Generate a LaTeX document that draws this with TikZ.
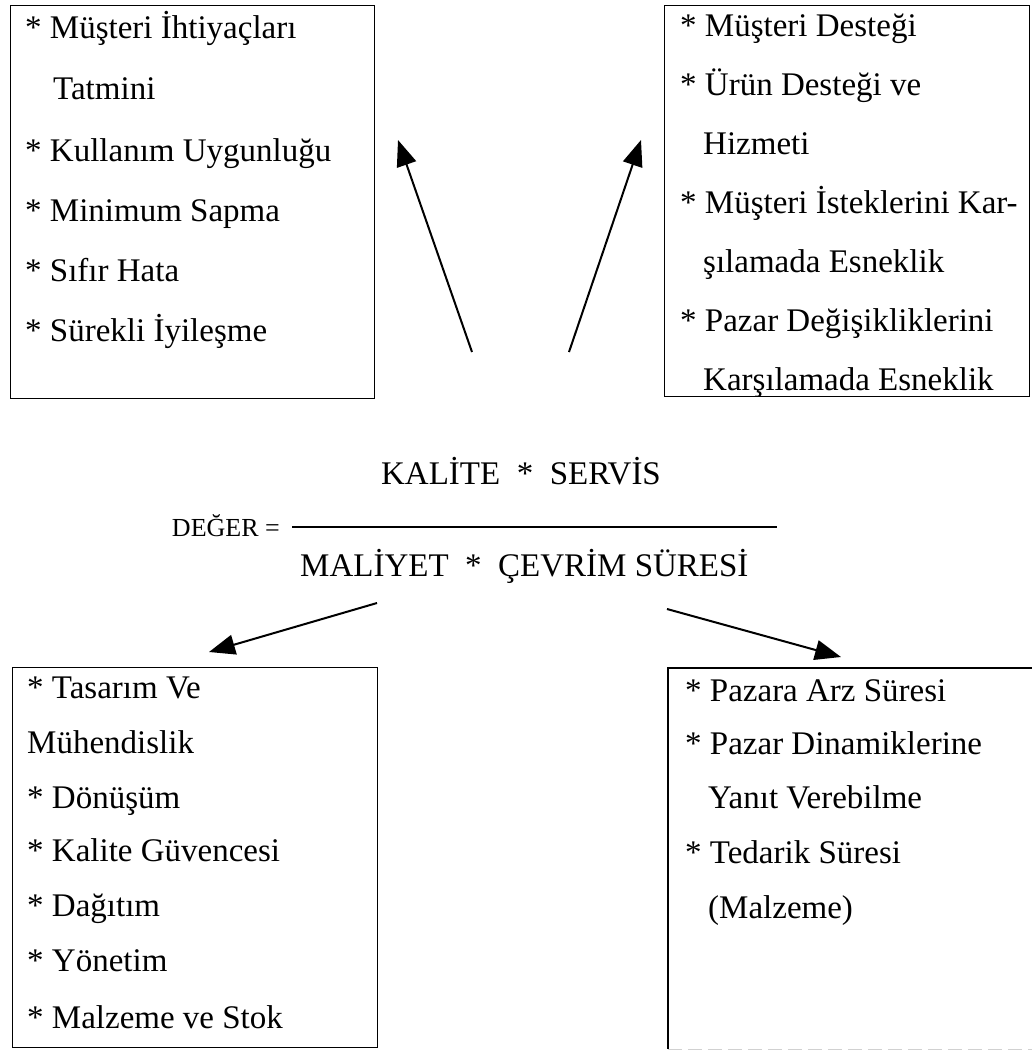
\documentclass[tikz,border=0pt]{standalone}
\usepackage{fontspec}
\setmainfont{Liberation Serif}
\usetikzlibrary{arrows.meta}

\tikzset{
  txt/.style={anchor=base west, inner sep=0pt, font=\fontsize{33}{40}\selectfont},
  ctxt/.style={anchor=base, inner sep=0pt, font=\fontsize{33}{40}\selectfont},
  panel/.style={draw, line width=1.4pt, inner sep=0pt, anchor=north west},
  bigarrow/.style={line width=2pt, -{Triangle[length=26pt,width=20pt]}},
}

\begin{document}
\begin{tikzpicture}[x=1pt, y=-1pt]
\useasboundingbox (0,0) rectangle (1032,1053);

% ---- upper-left panel: quality ----
\node[panel, minimum width=364pt, minimum height=393pt] (qbox) at (10,5) {};
\node[txt] (q1) at (25,38)  {* Müşteri İhtiyaçları};
\node[txt] (q2) at (53,99)  {Tatmini};
\node[txt] (q3) at (25,161) {* Kullanım Uygunluğu};
\node[txt] (q4) at (25,221) {* Minimum Sapma};
\node[txt] (q5) at (25,281) {* Sıfır Hata};
\node[txt] (q6) at (25,341) {* Sürekli İyileşme};

% ---- upper-right panel: service ----
\node[panel, minimum width=365pt, minimum height=391pt] (sbox) at (664,5) {};
\node[txt] (s1) at (680,36)  {* Müşteri Desteği};
\node[txt] (s2) at (680,95)  {* Ürün Desteği ve};
\node[txt] (s3) at (703,154) {Hizmeti};
\node[txt] (s4) at (680,213) {* Müşteri İsteklerini Kar-};
\node[txt] (s5) at (703,272) {şılamada Esneklik};
\node[txt] (s6) at (680,331) {* Pazar Değişikliklerini};
\node[txt] (s7) at (703,390) {Karşılamada Esneklik};

% ---- value formula ----
\node[ctxt] (num) at (521,484) {KALİTE~~*~~SERVİS};
\node[anchor=base east, inner sep=0pt, font=\fontsize{26}{32}\selectfont]
  (lhs) at (280,536) {DEĞER =};
\coordinate (barL) at (292,527);
\coordinate (barR) at (777,527);
\draw[line width=1.4pt] (barL) -- (barR);
\node[txt] (den) at (300,576) {MALİYET~~*~~ÇEVRİM SÜRESİ};

% ---- lower-left panel: cost ----
\node[panel, minimum width=365pt, minimum height=380pt] (cbox) at (12,667) {};
\node[txt] (c1) at (27,698)  {* Tasarım Ve};
\node[txt] (c2) at (27,753)  {Mühendislik};
\node[txt] (c3) at (27,808)  {* Dönüşüm};
\node[txt] (c4) at (27,861)  {* Kalite Güvencesi};
\node[txt] (c5) at (27,916)  {* Dağıtım};
\node[txt] (c6) at (27,971)  {* Yönetim};
\node[txt] (c7) at (27,1028) {* Malzeme ve Stok};

% ---- lower-right panel: cycle time ----
\coordinate (tTR) at (1032,668);
\coordinate (tTL) at (668,668);
\coordinate (tBL) at (668,1049);
\coordinate (tBR) at (1032,1049);
\draw[line width=1.4pt] (tTR) -- (tTL) -- (tBL);
\draw[line width=1pt, black!18, dash pattern=on 14pt off 6pt] (tBL) -- (tBR);
\node[txt] (t1) at (685,701) {* Pazara Arz Süresi};
\node[txt] (t2) at (685,754) {* Pazar Dinamiklerine};
\node[txt] (t3) at (708,808) {Yanıt Verebilme};
\node[txt] (t4) at (685,863) {* Tedarik Süresi};
\node[txt] (t5) at (708,918) {(Malzeme)};

% ---- arrows from the formula to the four panels ----
\coordinate (aqS) at (472,352);
\coordinate (aqE) at (398,140);
\coordinate (asS) at (569,352);
\coordinate (asE) at (641,140);
\coordinate (acS) at (377,603);
\coordinate (acE) at (209,652);
\coordinate (atS) at (667,609);
\coordinate (atE) at (841,657);
\draw[bigarrow] (aqS) -- (aqE);
\draw[bigarrow] (asS) -- (asE);
\draw[bigarrow] (acS) -- (acE);
\draw[bigarrow] (atS) -- (atE);
\end{tikzpicture}
\end{document}
